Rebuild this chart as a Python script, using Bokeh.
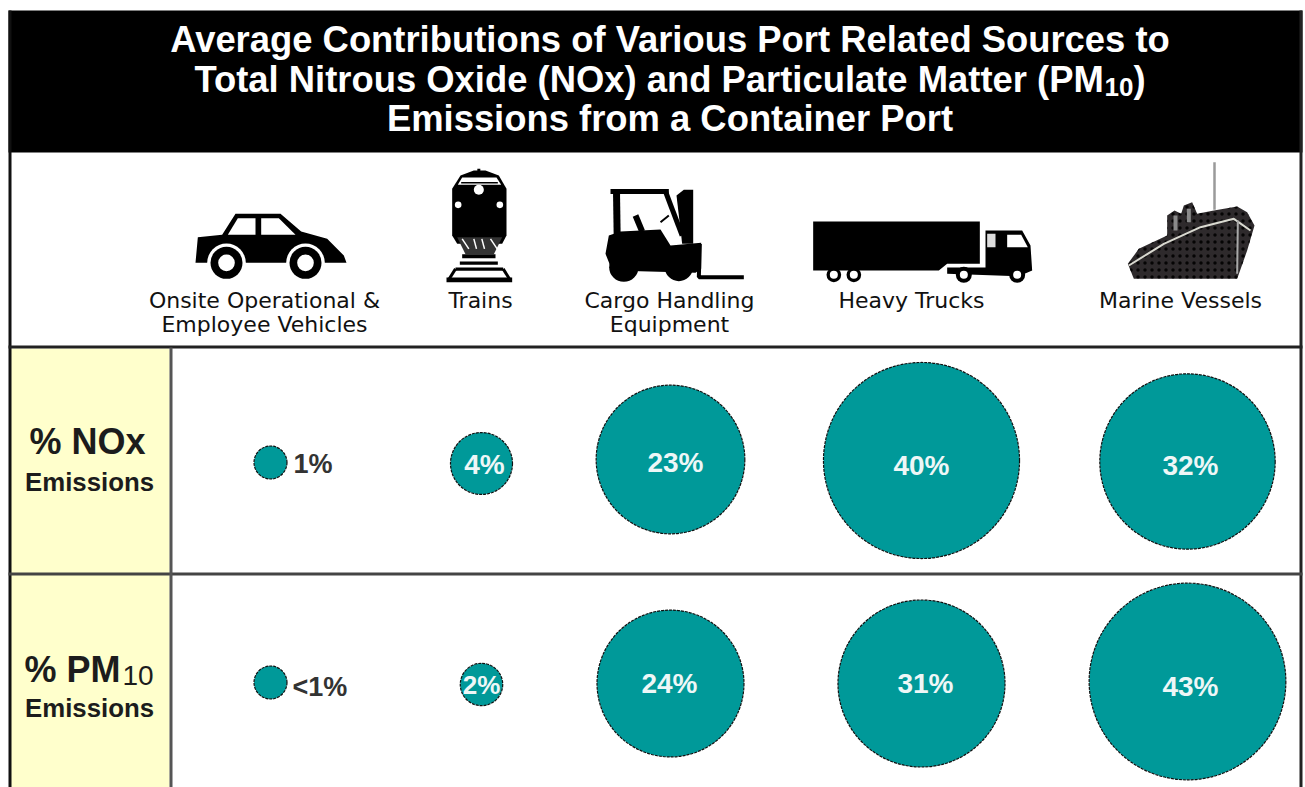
from math import sqrt
from bokeh.plotting import figure
from bokeh.models import Range1d
from bokeh.core.properties import value
from bokeh.embed import file_html
from bokeh.resources import INLINE

# ---- data ----
categories = ["Onsite Operational &\nEmployee Vehicles", "Trains", "Cargo Handling\nEquipment", "Heavy Trucks", "Marine Vessels"]
nox_values = [1, 4, 23, 40, 32]
pm_values = [0.9, 2, 24, 31, 43]
nox_labels = ["1%", "4%", "23%", "40%", "32%"]
pm_labels = ["<1%", "2%", "24%", "31%", "43%"]

# ---- layout (page pixels) ----
W, H = 1305, 787
col_x = [270, 481, 670, 921, 1187]
nox_y = [462, 463, 459, 460, 461]
pm_y = [682, 684, 683, 683, 681]
nox_lab_x = [293, 484, 675, 921, 1190]
nox_lab_y = [463, 464, 462, 465, 465]
pm_lab_x = [292, 481, 669, 925, 1190]
pm_lab_y = [686, 684, 683, 683, 686]
cat_x = [264, 480, 669, 911, 1180]
TEAL = "#009999"; YEL = "#FFFFCC"; INK = "#1c1c1c"
SANS = "Liberation Sans"

p = figure(width=W, height=H, output_backend="svg", toolbar_location=None,
           x_range=Range1d(0, W), y_range=Range1d(H, 0),
           min_border=0, min_border_left=0, min_border_right=0, min_border_top=0, min_border_bottom=0)
p.axis.visible = False
p.grid.visible = False
p.outline_line_color = None
p.background_fill_color = "white"

def rect(x0, y0, x1, y1, c):
    p.quad(left=[x0], right=[x1], top=[y0], bottom=[y1], fill_color=c, line_color=None)

def txt(x, y, s, size, color=INK, bold=True, align="left", font=SANS):
    p.text(x=[x], y=[y], text=[s], text_font=value(font), text_font_size=f"{size}px",
           text_font_style="bold" if bold else "normal", text_color=color,
           text_align=align, text_baseline="middle")

# frame
rect(8, 10, 1302, 152, "#000000")
rect(10, 348, 169, 787, YEL)
rect(8, 10, 11, 787, "#111111")
rect(1299, 10, 1302, 787, "#222222")
rect(8, 345, 1302, 348, "#222222")
rect(8, 572, 1302, 575, "#444444")
rect(169, 347, 172, 787, "#555555")

# title
TS = 36.4
txt(669.5, 39, "Average Contributions of Various Port Related Sources to", TS, "white", align="center")
txt(194, 79, "Total Nitrous Oxide (NOx) and Particulate Matter (PM", TS, "white")
txt(1104, 86, "10", 26, "white")
txt(1133, 79, ")", TS, "white")
txt(669.5, 118, "Emissions from a Container Port", TS, "white", align="center")

# row headers
txt(87, 441, "% NOx", 36, align="center")
txt(89, 481, "Emissions", 25.8, align="center")
txt(24, 669, "% PM", 36)
txt(122, 675, "10", 28, bold=False)
txt(89, 707, "Emissions", 25.8, align="center")

# category labels
for cx, c in zip(cat_x, categories):
    lines = c.split("\n")
    for i, line in enumerate(lines):
        txt(cx, 300 + i * 24, line, 22, "#111111", bold=False, align="center", font="DejaVu Sans")

# bubbles: area proportional to value, with a floor for the tiny ones
def radii(vals, k):
    return [max(16.5, k * sqrt(v)) for v in vals]

for ys, vals, labs, k, lx, ly in [(nox_y, nox_values, nox_labels, 15.5, nox_lab_x, nox_lab_y),
                                  (pm_y, pm_values, pm_labels, 15.0, pm_lab_x, pm_lab_y)]:
    p.circle(x=col_x, y=ys, radius=radii(vals, k), fill_color=TEAL, line_color="#111111",
             line_width=1.2, line_dash="3 1")
    for i, (x, y, lab) in enumerate(zip(lx, ly, labs)):
        if i == 0:
            txt(x, y, lab, 27, "#333333")
        else:
            txt(x, y, lab, 26 if lab == "2%" else 28, "#eef7f7", align="center")

# ---- icons ----
def Z(ox, oy, pts):
    return [ox + a / 3 for a, b in pts], [oy + b / 3 for a, b in pts]

def poly(ox, oy, pts, c="#000000", **kw):
    xs, ys = Z(ox, oy, pts)
    p.patch(xs, ys, fill_color=c, line_color=None, **kw)

def pline(ox, oy, pts, w, c="#000000"):
    xs, ys = Z(ox, oy, pts)
    p.line(xs, ys, line_color=c, line_width=w)

def disc(ox, oy, x, y, r, c="#000000"):
    p.circle(x=[ox + x / 3], y=[oy + y / 3], radius=r / 3, fill_color=c, line_color=None)

# car
o = (140, 155)
poly(*o, [(165, 322), (172, 245), (245, 238), (285, 175), (420, 175), (482, 228), (560, 250), (610, 300), (618, 322)])
poly(*o, [(262, 238), (292, 188), (345, 188), (345, 238)], "white")
poly(*o, [(362, 188), (415, 188), (465, 238), (362, 238)], "white")
for wx in (258, 495):
    disc(*o, wx, 322, 58, "white")
    disc(*o, wx, 322, 48)
    disc(*o, wx, 322, 25, "white")

# train
poly(*o, [(935, 100), (960, 60), (1000, 45), (1035, 45), (1075, 60), (1098, 100), (1098, 240), (1085, 265), (950, 265), (935, 240)])
pline(*o, [(1015, 40), (1015, 55)], 3)
poly(*o, [(952, 88), (965, 66), (1068, 66), (1082, 88)], "white")
pline(*o, [(962, 82), (1072, 82)], 1.5)
disc(*o, 1015, 103, 15, "white")
disc(*o, 953, 148, 10, "white")
disc(*o, 1078, 148, 10, "white")
poly(*o, [(950, 245), (1085, 245), (1060, 296), (975, 296)], "#333333")
for a, b in [(965, 985), (1000, 1008), (1024, 1032), (1050, 1070)]:
    pline(*o, [(a, 250), (b, 280)], 1.5, "white")
rect(140 + 965 / 3, 155 + 296 / 3, 140 + 1065 / 3, 155 + 308 / 3, "#000000")
rect(140 + 958 / 3, 155 + 318 / 3, 140 + 1072 / 3, 155 + 328 / 3, "#000000")
rect(140 + 945 / 3, 155 + 336 / 3, 140 + 1088 / 3, 155 + 346 / 3, "#000000")
rect(140 + 918 / 3, 155 + 366 / 3, 140 + 1115 / 3, 155 + 380 / 3, "#000000")
pline(*o, [(945, 340), (925, 372)], 3)
pline(*o, [(1088, 340), (1108, 372)], 3)

# forklift
o = (570, 155)
pline(*o, [(120, 108), (295, 108)], 5)
pline(*o, [(138, 108), (140, 240)], 7)
pline(*o, [(285, 108), (335, 240)], 5)
poly(*o, [(318, 120), (340, 103), (368, 103), (368, 265), (335, 265)])
poly(*o, [(115, 240), (150, 228), (270, 222), (300, 270), (392, 262), (392, 340), (375, 352), (125, 345), (105, 295)])
disc(*o, 160, 335, 44)
disc(*o, 325, 335, 42)
pline(*o, [(195, 180), (215, 228)], 6)
pline(*o, [(270, 200), (295, 180)], 2)
pline(*o, [(388, 265), (385, 365), (520, 365)], 4)

# truck
poly(*o, [(728, 198), (1228, 198), (1228, 325), (1130, 325), (1105, 345), (728, 345)])
poly(*o, [(1245, 225), (1355, 225), (1380, 270), (1385, 345), (1345, 362), (1130, 355), (1130, 336), (1245, 336)])
poly(*o, [(1250, 235), (1275, 235), (1275, 275), (1250, 275)], "#dddddd")
poly(*o, [(1310, 238), (1352, 238), (1372, 275), (1310, 275)], "white")
for wx, r, hub in [(790, 22, 12), (850, 22, 12), (1180, 24, 12), (1340, 24, 12)]:
    disc(*o, wx, 358, r)
    disc(*o, wx, 358, hub, "white")

# ship
o = (1050, 150)
pline(*o, [(492, 35), (492, 178)], 2.5, "#9a9a9a")
poly(*o, [(232, 340), (265, 295), (350, 255), (350, 195), (372, 180), (392, 190), (400, 165), (425, 155),
          (440, 190), (490, 180), (560, 168), (590, 185), (612, 225), (590, 300), (560, 385), (250, 385)],
     "#2e2a2c", hatch_pattern="dot", hatch_color="#000000", hatch_scale=7, hatch_alpha=0.9)
pline(*o, [(235, 345), (340, 280), (450, 230), (550, 205), (600, 240)], 2, "#d9d9d0")
pline(*o, [(562, 210), (560, 370)], 2, "#a9a9a9")
pline(*o, [(375, 195), (375, 240)], 4, "#8a8a8a")
pline(*o, [(415, 175), (415, 215)], 4, "#8a8a8a")

open("out.html", "w").write(file_html(p, INLINE))
